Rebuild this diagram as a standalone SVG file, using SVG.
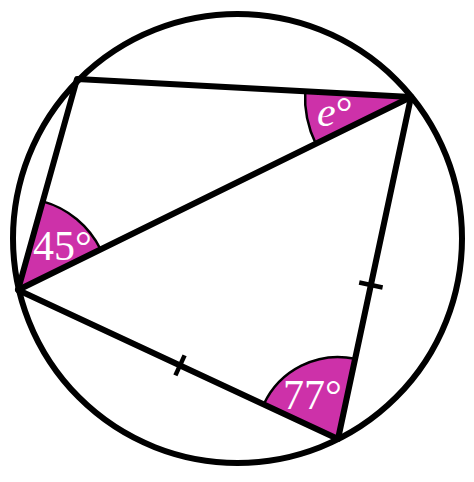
<svg xmlns="http://www.w3.org/2000/svg" width="474" height="482" viewBox="0 0 474 482">
  <style>
    .sector { fill: #CD31A9; stroke: #000; stroke-width: 2.5; stroke-linejoin: round; }
    .thick { fill: none; stroke: #000; stroke-width: 6; stroke-linecap: round; stroke-linejoin: round; }
    .tick { fill: none; stroke: #000; stroke-width: 4.5; }
    .lbl { fill: #fff; font-family: "Liberation Serif", "Times New Roman", serif; font-size: 42px; }
  </style>
  <rect width="474" height="482" fill="#fff"/>
  <g id="angle-C">
    <path class="sector" d="M18,290 L42.8,201.4 A92,92 0 0,1 100.6,249.4 Z"/>
  </g>
  <g id="angle-B">
    <path class="sector" d="M411,97 L305.2,91.3 A106,106 0 0,0 315.8,143.7 Z"/>
  </g>
  <g id="angle-D">
    <path class="sector" d="M338,439 L263.7,404.4 A82,82 0 0,1 355.1,358.8 Z"/>
  </g>
  <g id="circle">
    <circle class="thick" cx="237.5" cy="238.5" r="224.5"/>
  </g>
  <g id="connectors">
    <polygon class="thick" points="77,79 411,97 338,439 18,290"/>
    <line class="thick" x1="18" y1="290" x2="411" y2="97"/>
    <line class="tick" x1="175.4" y1="375.4" x2="184.6" y2="355.4"/>
    <line class="tick" x1="359.2" y1="282.5" x2="382.6" y2="287.5"/>
  </g>
  <g id="labels">
    <text class="lbl" x="33" y="260">45°</text>
    <text class="lbl" x="283" y="409">77°</text>
    <text class="lbl" x="317" y="126"><tspan font-style="italic">e</tspan>°</text>
  </g>
</svg>
